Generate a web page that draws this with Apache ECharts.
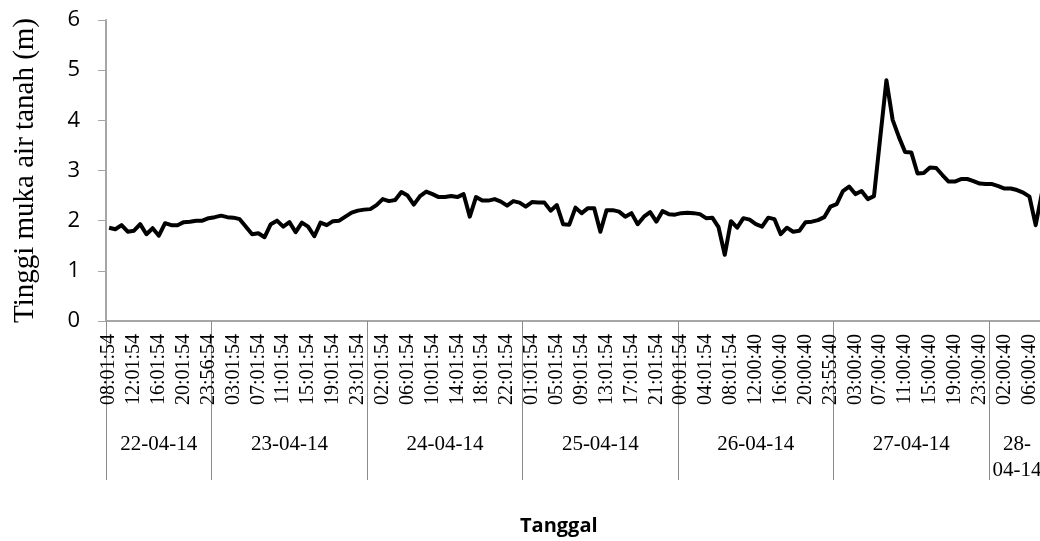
<!DOCTYPE html>
<html>
<head>
<meta charset="utf-8">
<script src="https://cdn.jsdelivr.net/npm/echarts@6/dist/echarts.min.js"></script>
<style>
html, body { margin: 0; padding: 0; background: #fff; overflow: hidden; }
#chart { width: 1050px; height: 541px; }
</style>
</head>
<body>
<div id="chart"></div>
<script>
// jam pengukuran per tanggal
var times22 = ['08:01:54','09:01:54','10:01:54','11:01:54','12:01:54','13:01:54','14:01:54','15:01:54','16:01:54','17:01:54','18:01:54','19:01:54','20:01:54','21:01:54','22:01:54','23:01:54','23:56:54'];
var times23 = ['00:01:54','01:01:54','02:01:54','03:01:54','04:01:54','05:01:54','06:01:54','07:01:54','08:01:54','09:01:54','10:01:54','11:01:54','12:01:54','13:01:54','14:01:54','15:01:54','16:01:54','17:01:54','18:01:54','19:01:54','20:01:54','21:01:54','22:01:54','23:01:54','23:56:54'];
var times24 = ['00:01:54','01:01:54','02:01:54','03:01:54','04:01:54','05:01:54','06:01:54','07:01:54','08:01:54','09:01:54','10:01:54','11:01:54','12:01:54','13:01:54','14:01:54','15:01:54','16:01:54','17:01:54','18:01:54','19:01:54','20:01:54','21:01:54','22:01:54','23:01:54','23:56:54'];
var times25 = ['00:01:54','01:01:54','02:01:54','03:01:54','04:01:54','05:01:54','06:01:54','07:01:54','08:01:54','09:01:54','10:01:54','11:01:54','12:01:54','13:01:54','14:01:54','15:01:54','16:01:54','17:01:54','18:01:54','19:01:54','20:01:54','21:01:54','22:01:54','23:01:54','23:56:54'];
var times26 = ['00:01:54','01:01:54','02:01:54','03:01:54','04:01:54','05:01:54','06:01:54','07:01:54','08:01:54','09:01:54','10:01:54','11:00:40','12:00:40','13:00:40','14:00:40','15:00:40','16:00:40','17:00:40','18:00:40','19:00:40','20:00:40','21:00:40','22:00:40','23:00:40','23:55:40'];
var times27 = ['00:00:40','01:00:40','02:00:40','03:00:40','04:00:40','05:00:40','06:00:40','07:00:40','08:00:40','09:00:40','10:00:40','11:00:40','12:00:40','13:00:40','14:00:40','15:00:40','16:00:40','17:00:40','18:00:40','19:00:40','20:00:40','21:00:40','22:00:40','23:00:40','23:55:40'];
var times28 = ['00:00:40','01:00:40','02:00:40','03:00:40','04:00:40','05:00:40','06:00:40','07:00:40','08:00:40'];

// tinggi muka air tanah (m)
var level22 = [1.86,1.83,1.91,1.78,1.80,1.93,1.73,1.85,1.70,1.95,1.91,1.91,1.97,1.98,2.00,2.00,2.05];
var level23 = [2.07,2.10,2.07,2.06,2.03,1.88,1.73,1.75,1.67,1.93,2.00,1.88,1.97,1.77,1.96,1.88,1.69,1.96,1.91,1.99,2.00,2.08,2.16,2.20,2.22];
var level24 = [2.23,2.31,2.43,2.39,2.41,2.57,2.50,2.32,2.49,2.58,2.53,2.47,2.47,2.49,2.47,2.53,2.08,2.47,2.40,2.40,2.43,2.38,2.30,2.39,2.36];
var level25 = [2.28,2.37,2.36,2.36,2.20,2.31,1.93,1.92,2.26,2.15,2.25,2.25,1.78,2.21,2.21,2.18,2.08,2.15,1.93,2.08,2.17,1.98,2.19,2.13,2.12];
var level26 = [2.15,2.16,2.15,2.13,2.05,2.06,1.87,1.32,1.99,1.86,2.05,2.02,1.93,1.88,2.06,2.03,1.73,1.86,1.78,1.80,1.97,1.98,2.01,2.07,2.28];
var level27 = [2.33,2.59,2.68,2.53,2.59,2.43,2.49,3.65,4.80,4.01,3.67,3.37,3.36,2.94,2.95,3.06,3.05,2.91,2.78,2.78,2.83,2.83,2.79,2.74,2.73];
var level28 = [2.73,2.69,2.64,2.64,2.61,2.56,2.48,1.91,2.55];

var dayLabels = ['22-04-14','23-04-14','24-04-14','25-04-14','26-04-14','27-04-14','28-\n04-14'];
var yTicks = [0, 1, 2, 3, 4, 5, 6];

var dayTimes = [times22, times23, times24, times25, times26, times27, times28];
var times = [].concat.apply([], dayTimes);
var levels = [].concat(level22, level23, level24, level25, level26, level27, level28);

// batas tanggal dan posisi label tanggal (indeks kategori)
var dayStart = [], dayMid = {};
var idx = 0;
dayTimes.forEach(function (d, k) {
  dayStart.push(idx);
  dayMid[idx + Math.floor(d.length / 2)] = dayLabels[k];
  idx += d.length;
});

var chart = echarts.init(document.getElementById('chart'));
chart.setOption({
  animation: false,
  backgroundColor: '#fff',
  title: {
    text: 'Tanggal',
    left: 515,
    top: 511,
    textStyle: { fontFamily: 'Open Sans', fontWeight: 'bold', fontSize: 20, color: '#000' }
  },
  grid: {
    left: 106,
    right: 5,
    top: 20,
    bottom: 220,
    containLabel: false,
    outerBoundsMode: 'none'
  },
  xAxis: [
    {
      type: 'category',
      data: times,
      boundaryGap: true,
      axisLine: { show: true, lineStyle: { color: '#A6A6A6', width: 2 } },
      axisTick: {
        show: true,
        interval: function (i) { return dayStart.indexOf(i) >= 0; },
        length: 159,
        lineStyle: { color: '#8C8C8C', width: 1 }
      },
      axisLabel: {
        interval: 3,
        rotate: 90,
        margin: 13,
        fontFamily: 'Liberation Serif',
        fontSize: 20,
        color: '#000'
      },
      splitLine: { show: false }
    },
    {
      type: 'category',
      data: times,
      position: 'bottom',
      offset: 110,
      boundaryGap: true,
      axisLine: { show: false },
      axisTick: { show: false },
      axisLabel: {
        interval: function (i) { return dayMid[i] !== undefined; },
        formatter: function (v, i) { return dayMid[i] || ''; },
        margin: 0,
        fontFamily: 'Liberation Serif',
        fontSize: 21,
        lineHeight: 26,
        color: '#000'
      },
      splitLine: { show: false }
    }
  ],
  yAxis: {
    type: 'value',
    min: yTicks[0],
    max: yTicks[yTicks.length - 1],
    interval: 1,
    name: 'Tinggi muka air tanah (m)',
    nameLocation: 'middle',
    nameGap: 66,
    nameTextStyle: { fontFamily: 'Liberation Serif', fontSize: 29, color: '#000' },
    axisLine: { show: true, lineStyle: { color: '#A6A6A6', width: 2 } },
    axisTick: { show: true, length: 8, lineStyle: { color: '#A6A6A6', width: 1 } },
    axisLabel: { margin: 26, fontFamily: 'Open Sans', fontSize: 22, color: '#000' },
    splitLine: { show: false }
  },
  series: [
    {
      type: 'line',
      xAxisIndex: 0,
      data: levels,
      showSymbol: false,
      symbol: 'none',
      lineStyle: { color: '#000', width: 4, join: 'round' },
      itemStyle: { color: '#000' }
    }
  ]
});
</script>
</body>
</html>
